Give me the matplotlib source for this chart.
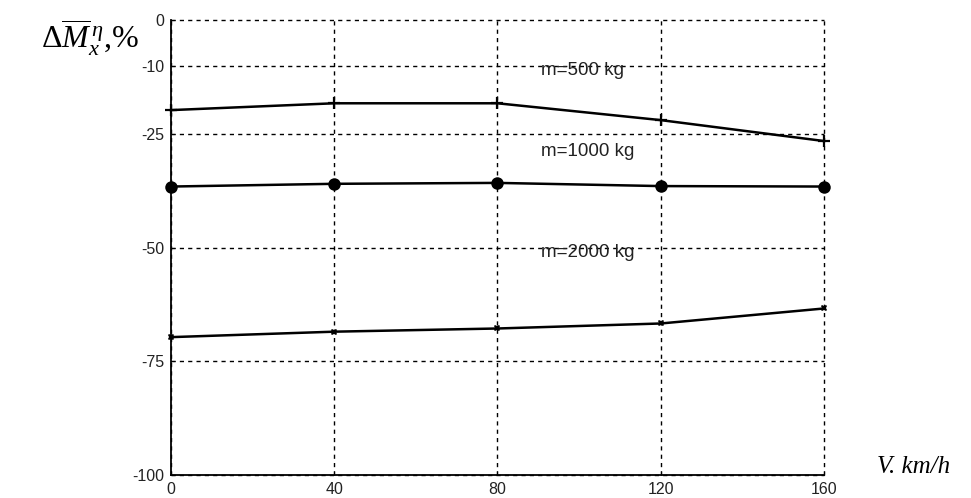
import matplotlib
matplotlib.use('Agg')
import matplotlib.pyplot as plt

plt.rcParams['font.family'] = ['Liberation Sans', 'DejaVu Sans']
plt.rcParams['axes.unicode_minus'] = False
plt.rcParams['mathtext.fontset'] = 'custom'
plt.rcParams['mathtext.rm'] = 'Liberation Serif'
plt.rcParams['mathtext.it'] = 'Liberation Serif:italic'

# speed, km/h
speed = [0, 40, 80, 120, 160]
# change of moment, %
m500 = [-19.8, -18.3, -18.3, -22.0, -26.6]
m1000 = [-36.6, -36.0, -35.8, -36.5, -36.6]
m2000 = [-69.7, -68.5, -67.8, -66.7, -63.4]

xticks = [0, 40, 80, 120, 160]
yticks = [0, -10, -25, -50, -75, -100]

fig = plt.figure(figsize=(9.71, 4.98), dpi=100)
ax = fig.add_axes([0.1761, 0.0462, 0.6725, 0.9136])

ax.plot(speed, m500, color='black', lw=1.8, marker='+', ms=8, mew=1.6, clip_on=False, zorder=3)
ax.plot(speed, m1000, color='black', lw=1.8, marker='o', ms=9, mew=0, clip_on=False, zorder=3)
ax.plot(speed, m2000, color='black', lw=1.8, marker='X', ms=5, mew=0, clip_on=False, zorder=3)

ax.text(90.7, -11, 'm=500 kg', fontsize=13.5, ha='left', va='center', color='#222222')
ax.text(90.7, -29, 'm=1000 kg', fontsize=13.5, ha='left', va='center', color='#222222')
ax.text(90.7, -51.2, 'm=2000 kg', fontsize=13.5, ha='left', va='center', color='#222222')

ax.set_xlim(0, 160)
ax.set_ylim(-100, 0)
ax.set_xticks(xticks)
ax.set_yticks(yticks)
ax.tick_params(direction='in', length=3, labelsize=11.5, colors='black', labelcolor='#222222', pad=5)
ax.grid(True, color='black', linestyle=(0, (3, 3)), lw=1)
for gl in ax.get_xgridlines() + ax.get_ygridlines():
    gl.set_clip_on(False)
ax.spines['top'].set_visible(False)
ax.spines['right'].set_visible(False)
ax.spines['left'].set_linewidth(1.3)
ax.spines['bottom'].set_linewidth(1.3)

fig.text(90 / 971, 1 - 38 / 498, r'$\Delta\overline{M}_x^{\,\eta}$,%', fontsize=23,
         family='Liberation Serif', ha='center', va='center')
fig.text(914 / 971, 1 - 467 / 498, 'V. km/h', fontsize=18, style='italic',
         family='Liberation Serif', ha='center', va='center')

fig.savefig('out.png', dpi=100)
